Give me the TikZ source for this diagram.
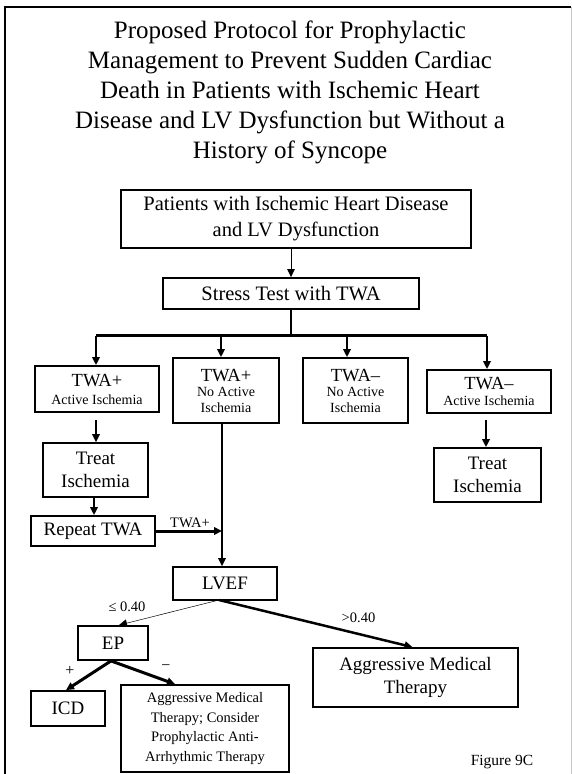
\documentclass[tikz,border=0pt]{standalone}
\usepackage{fontspec}
\setmainfont{Liberation Serif}
\usetikzlibrary{arrows.meta}
\begin{document}
\begin{tikzpicture}[x=1pt,y=-1pt,
  box/.style={draw, line width=1.8pt, inner sep=0pt, align=center},
  big/.style={font=\fontsize{19}{23}\selectfont},
  small/.style={font=\fontsize{14}{15.5}\selectfont},
  tip/.style={-{Triangle[length=8pt,width=7.5pt]}},
  lbl/.style={inner sep=0pt, font=\fontsize{14.5}{16}\selectfont}]
\useasboundingbox (0,0) rectangle (572,774);
% frame
\draw[line width=2pt] (5,774) -- (5,7) -- (571,7);
\draw[gray!45, line width=1pt] (571.5,7) -- (571.5,774);
% title
\node[anchor=north, inner sep=0pt, align=center, font=\fontsize{25}{30}\selectfont] (title) at (290,21)
 {Proposed Protocol for Prophylactic\\Management to Prevent Sudden Cardiac\\Death in Patients with Ischemic Heart\\Disease and LV Dysfunction but Without a\\History of Syncope};
% boxes
\node[box, minimum width=350pt, minimum height=58pt, font=\fontsize{20.5}{26}\selectfont] (pat) at (296,219)
 {Patients with Ischemic Heart Disease\\and LV Dysfunction};
\node[box, minimum width=256pt, minimum height=31pt, font=\fontsize{20.5}{24}\selectfont] (stress) at (291,293.5) {Stress Test with TWA};
\node[box, small, minimum width=124pt, minimum height=46pt] (A) at (97,389)
 {{\fontsize{18.5}{20}\selectfont TWA+}\\[2.5pt]Active Ischemia};
\node[box, small, minimum width=106pt, minimum height=65pt] (B) at (226,390.5)
 {{\fontsize{18.5}{20}\selectfont TWA+}\\No Active\\Ischemia};
\node[box, small, minimum width=105pt, minimum height=65pt] (C) at (355.5,390.5)
 {{\fontsize{18.5}{20}\selectfont TWA–}\\No Active\\Ischemia};
\node[box, small, minimum width=124pt, minimum height=43pt] (D) at (489,391.5)
 {{\fontsize{18.5}{20}\selectfont TWA–}\\Active Ischemia};
\node[box, big, minimum width=105pt, minimum height=54pt] (treatL) at (95.5,470) {Treat\\Ischemia};
\node[box, big, minimum width=107pt, minimum height=54pt] (treatR) at (487.5,475) {Treat\\Ischemia};
\node[box, big, minimum width=124pt, minimum height=30pt] (repeat) at (93,531) {Repeat TWA};
\node[box, big, minimum width=104pt, minimum height=33pt] (lvef) at (225,583.5) {LVEF};
\node[box, big, minimum width=70pt, minimum height=34pt] (ep) at (113,643) {EP};
\node[box, big, minimum width=205pt, minimum height=59pt] (amt) at (415.5,677.5) {Aggressive Medical\\Therapy};
\node[box, big, minimum width=74pt, minimum height=35pt] (icd) at (68,708.5) {ICD};
\node[box, minimum width=168pt, minimum height=87pt, font=\fontsize{14.5}{19.5}\selectfont] (cons) at (205,728.5)
 {Aggressive Medical\\Therapy; Consider\\Prophylactic Anti-\\Arrhythmic Therapy};
% labels
\node[lbl] (ltwa) at (190,523) {TWA+};
\node[lbl] (lle) at (127,607) {≤ 0.40};
\node[lbl] (lgt) at (358.5,618) {>0.40};
\node[lbl, font=\fontsize{16}{18}\selectfont] (lplus) at (70,671) {+};
\node[lbl, font=\fontsize{16}{18}\selectfont] (lminus) at (166,668) {−};
\node[lbl, font=\fontsize{15.5}{17}\selectfont] (fig) at (502,762) {Figure 9C};
% coordinates
\coordinate (bl) at (96,335.5);
\coordinate (br) at (487,335.5);
\coordinate (b2) at (221,335.5);
\coordinate (b3) at (347,335.5);
\coordinate (v) at (222,500);
\coordinate (lv) at (219,600);
% connectors
\draw[tip, line width=1pt] (stress.north |- pat.south) -- (stress.north);
\draw[line width=2pt] (stress.south) -- (stress.south |- bl);
\draw[line width=3pt] (bl) -- (br);
\draw[tip, line width=2pt] (bl) -- (bl |- A.north);
\draw[tip, line width=2pt] (b2) -- (b2 |- B.north);
\draw[tip, line width=2pt] (b3) -- (b3 |- C.north);
\draw[tip, line width=2pt] (br) -- (br |- D.north);
\draw[tip, line width=1.5pt] ([shift={(-1pt,0pt)}]A.south) ++(0,7) -- ([shift={(-1pt,0pt)}]A.south |- treatL.north);
\draw[tip, line width=2pt] ([shift={(-3pt,0pt)}]D.south) ++(0,6) -- ([shift={(-3pt,0pt)}]D.south |- treatR.north);
\draw[tip, line width=2pt] ([shift={(-1.5pt,0pt)}]treatL.south) -- ([shift={(-1.5pt,0pt)}]treatL.south |- repeat.north);
\draw[line width=1.5pt] (v |- B.south) -- (v);
\draw[tip, line width=1.5pt] (v) -- (v |- lvef.north);
\draw[tip, line width=3pt] (repeat.east) -- (repeat.east -| v);
\draw[tip, line width=0.5pt] (lv) -- ([shift={(6pt,0pt)}]ep.north);
\draw[tip, line width=2.5pt] (lv) -- ([shift={(-3pt,0pt)}]amt.north);
\draw[tip, line width=3pt] ([shift={(-2pt,0pt)}]ep.south) -- ([shift={(-2pt,0pt)}]icd.north);
\draw[tip, line width=3pt] ([shift={(-2pt,0pt)}]ep.south) -- ([shift={(-30pt,0pt)}]cons.north);
\end{tikzpicture}
\end{document}
